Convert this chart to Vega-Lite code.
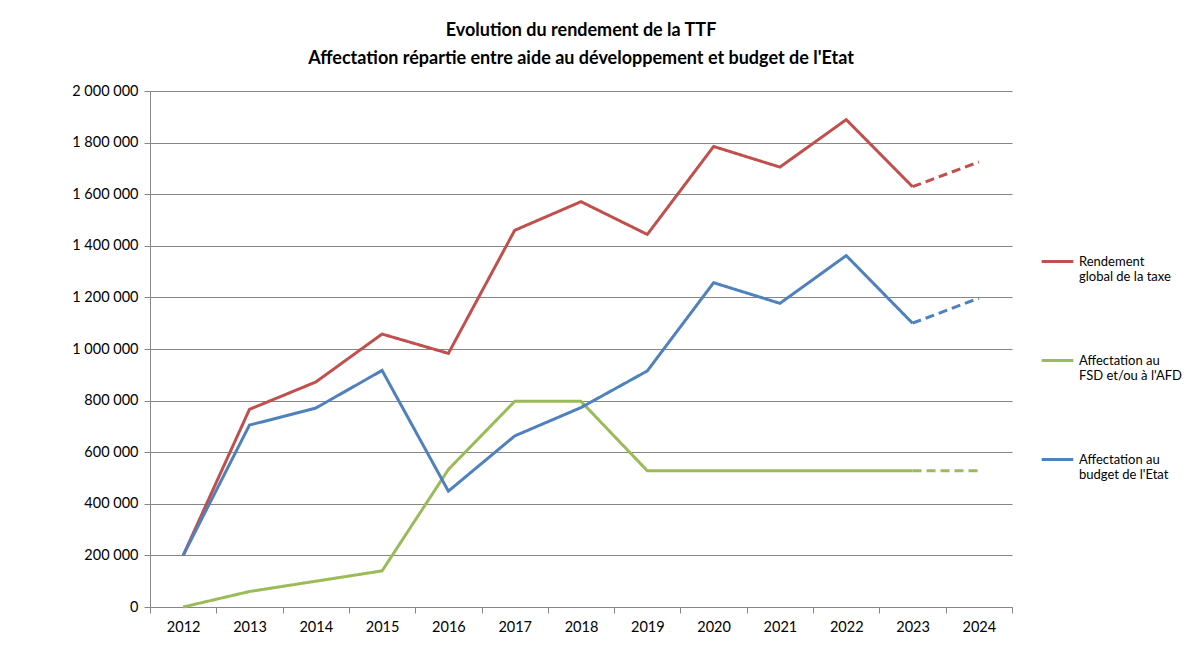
{
  "$schema": "https://vega.github.io/schema/vega-lite/v6.json",
  "autosize": {"type": "none"},
  "width": 862,
  "height": 516,
  "padding": {"left": 150, "top": 91, "right": 176, "bottom": 50},
  "background": "white",
  "title": {
    "text": ["Evolution du rendement de la TTF", "Affectation répartie entre aide au développement et budget de l'Etat"],
    "font": "Lato",
    "fontSize": 18,
    "fontWeight": "bold",
    "color": "#000000",
    "lineHeight": 28,
    "offset": 15,
    "anchor": "middle"
  },
  "data": {
    "values": [
      {"year": "2012", "series": "Rendement global de la taxe", "seg": "a", "value": 200000},
      {"year": "2013", "series": "Rendement global de la taxe", "seg": "a", "value": 766000},
      {"year": "2014", "series": "Rendement global de la taxe", "seg": "a", "value": 872000},
      {"year": "2015", "series": "Rendement global de la taxe", "seg": "a", "value": 1058000},
      {"year": "2016", "series": "Rendement global de la taxe", "seg": "a", "value": 983000},
      {"year": "2017", "series": "Rendement global de la taxe", "seg": "a", "value": 1460000},
      {"year": "2018", "series": "Rendement global de la taxe", "seg": "a", "value": 1571000},
      {"year": "2019", "series": "Rendement global de la taxe", "seg": "a", "value": 1444000},
      {"year": "2020", "series": "Rendement global de la taxe", "seg": "a", "value": 1785000},
      {"year": "2021", "series": "Rendement global de la taxe", "seg": "a", "value": 1705000},
      {"year": "2022", "series": "Rendement global de la taxe", "seg": "a", "value": 1889000},
      {"year": "2023", "series": "Rendement global de la taxe", "seg": "a", "value": 1629000},
      {"year": "2023", "series": "Rendement global de la taxe", "seg": "p", "value": 1629000},
      {"year": "2024", "series": "Rendement global de la taxe", "seg": "p", "value": 1725000},
      {"year": "2012", "series": "Affectation au FSD et/ou à l'AFD", "seg": "a", "value": 0},
      {"year": "2013", "series": "Affectation au FSD et/ou à l'AFD", "seg": "a", "value": 60000},
      {"year": "2014", "series": "Affectation au FSD et/ou à l'AFD", "seg": "a", "value": 100000},
      {"year": "2015", "series": "Affectation au FSD et/ou à l'AFD", "seg": "a", "value": 140000},
      {"year": "2016", "series": "Affectation au FSD et/ou à l'AFD", "seg": "a", "value": 533000},
      {"year": "2017", "series": "Affectation au FSD et/ou à l'AFD", "seg": "a", "value": 797000},
      {"year": "2018", "series": "Affectation au FSD et/ou à l'AFD", "seg": "a", "value": 797000},
      {"year": "2019", "series": "Affectation au FSD et/ou à l'AFD", "seg": "a", "value": 528000},
      {"year": "2020", "series": "Affectation au FSD et/ou à l'AFD", "seg": "a", "value": 528000},
      {"year": "2021", "series": "Affectation au FSD et/ou à l'AFD", "seg": "a", "value": 528000},
      {"year": "2022", "series": "Affectation au FSD et/ou à l'AFD", "seg": "a", "value": 528000},
      {"year": "2023", "series": "Affectation au FSD et/ou à l'AFD", "seg": "a", "value": 528000},
      {"year": "2023", "series": "Affectation au FSD et/ou à l'AFD", "seg": "p", "value": 528000},
      {"year": "2024", "series": "Affectation au FSD et/ou à l'AFD", "seg": "p", "value": 528000},
      {"year": "2012", "series": "Affectation au budget de l'Etat", "seg": "a", "value": 200000},
      {"year": "2013", "series": "Affectation au budget de l'Etat", "seg": "a", "value": 705000},
      {"year": "2014", "series": "Affectation au budget de l'Etat", "seg": "a", "value": 771000},
      {"year": "2015", "series": "Affectation au budget de l'Etat", "seg": "a", "value": 917000},
      {"year": "2016", "series": "Affectation au budget de l'Etat", "seg": "a", "value": 449000},
      {"year": "2017", "series": "Affectation au budget de l'Etat", "seg": "a", "value": 663000},
      {"year": "2018", "series": "Affectation au budget de l'Etat", "seg": "a", "value": 773000},
      {"year": "2019", "series": "Affectation au budget de l'Etat", "seg": "a", "value": 915000},
      {"year": "2020", "series": "Affectation au budget de l'Etat", "seg": "a", "value": 1257000},
      {"year": "2021", "series": "Affectation au budget de l'Etat", "seg": "a", "value": 1177000},
      {"year": "2022", "series": "Affectation au budget de l'Etat", "seg": "a", "value": 1362000},
      {"year": "2023", "series": "Affectation au budget de l'Etat", "seg": "a", "value": 1100000},
      {"year": "2023", "series": "Affectation au budget de l'Etat", "seg": "p", "value": 1100000},
      {"year": "2024", "series": "Affectation au budget de l'Etat", "seg": "p", "value": 1197000}
    ]
  },
  "mark": {"type": "line", "strokeWidth": 3, "strokeCap": "butt", "strokeJoin": "miter"},
  "encoding": {
    "x": {
      "field": "year",
      "type": "ordinal",
      "bandPosition": 0.5,
      "scale": {"type": "band", "paddingInner": 0, "paddingOuter": 0},
      "axis": {
        "title": null,
        "labelAngle": 0,
        "tickBand": "extent",
        "grid": false,
        "domainColor": "#868686",
        "tickColor": "#868686",
        "tickSize": 6,
        "labelPadding": 7,
        "labelFont": "Lato",
        "labelFontSize": 14.5,
        "labelColor": "#000000"
      }
    },
    "y": {
      "field": "value",
      "type": "quantitative",
      "scale": {"domain": [0, 2000000], "nice": false},
      "axis": {
        "title": null,
        "values": [0, 200000, 400000, 600000, 800000, 1000000, 1200000, 1400000, 1600000, 1800000, 2000000],
        "labelExpr": "replace(format(datum.value, ','), regexp(',', 'g'), ' ')",
        "gridColor": "#868686",
        "gridWidth": 1,
        "domainColor": "#868686",
        "tickColor": "#868686",
        "tickSize": 6,
        "labelPadding": 6,
        "labelFont": "Lato",
        "labelFontSize": 14.5,
        "labelColor": "#000000"
      }
    },
    "color": {
      "field": "series",
      "type": "nominal",
      "scale": {
        "domain": ["Rendement global de la taxe", "Affectation au FSD et/ou à l'AFD", "Affectation au budget de l'Etat"],
        "range": ["#C0504D", "#9BBB59", "#4F81BD"]
      },
      "legend": {
        "title": null,
        "orient": "none",
        "legendX": 890,
        "legendY": 153,
        "symbolType": "stroke",
        "symbolSize": 1000,
        "symbolStrokeWidth": 3,
        "rowPadding": 59,
        "labelFont": "Lato",
        "labelFontSize": 13,
        "labelColor": "#000000",
        "labelOffset": 4,
        "labelBaseline": "middle",
        "labelLimit": 200,
        "labelExpr": "datum.label == 'Rendement global de la taxe' ? ['Rendement', 'global de la taxe'] : (datum.label == 'Affectation au budget de l\\'Etat' ? ['Affectation au', 'budget de l\\'Etat'] : ['Affectation au', 'FSD et/ou à l\\'AFD'])"
      }
    },
    "strokeDash": {
      "field": "seg",
      "type": "nominal",
      "scale": {"domain": ["a", "p"], "range": [[1, 0], [9, 5]]},
      "legend": null
    }
  },
  "config": {
    "view": {"stroke": null},
    "text": {"lineHeight": 18}
  }
}
